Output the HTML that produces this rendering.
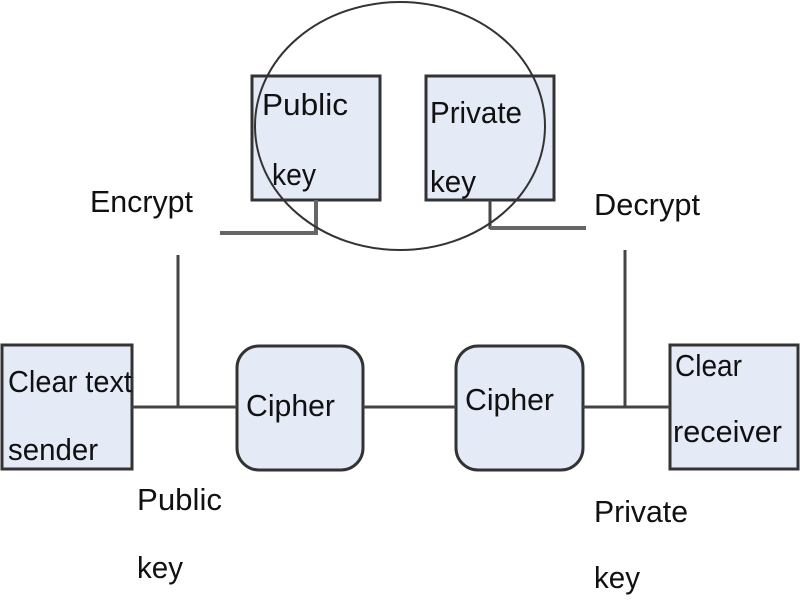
<!DOCTYPE html>
<html><head><style>body{margin:0;background:#fff}svg{display:block}text{font-family:"Liberation Sans",sans-serif;font-size:31px;fill:#111}</style></head>
<body>
<svg width="800" height="600" viewBox="0 0 800 600">
<g stroke="#333" stroke-width="3" fill="#e5ebf6">
<rect x="252" y="76" width="128" height="124"/>
<rect x="426" y="76" width="128" height="124"/>
<rect x="2" y="345" width="130" height="124"/>
<rect x="237" y="346" width="126" height="124" rx="22"/>
<rect x="456" y="346" width="127" height="124" rx="22"/>
<rect x="670" y="345" width="128" height="124"/>
</g>
<g stroke="#444" stroke-width="3" fill="none">
<line x1="132" y1="407" x2="237" y2="407"/>
<line x1="363" y1="407" x2="456" y2="407"/>
<line x1="583" y1="407" x2="670" y2="407"/>
<line x1="178" y1="255" x2="178" y2="407"/>
<line x1="625" y1="250" x2="625" y2="407"/>
<line x1="490" y1="200" x2="490" y2="229"/>
</g>
<g stroke="#666" stroke-width="4" fill="none">
<polyline points="316,200 316,233 220,233"/>
<line x1="490" y1="228" x2="586" y2="228"/>
</g>
<ellipse cx="400" cy="126" rx="145" ry="124" fill="none" stroke="#333" stroke-width="2"/>
<g lengthAdjust="spacingAndGlyphs">
<text x="262" y="115" textLength="86" lengthAdjust="spacingAndGlyphs">Public</text><text x="272" y="185" textLength="44" lengthAdjust="spacingAndGlyphs">key</text>
<text x="430" y="123" textLength="92" lengthAdjust="spacingAndGlyphs">Private</text><text x="430" y="192" textLength="46" lengthAdjust="spacingAndGlyphs">key</text>
<text x="90" y="212" textLength="103" lengthAdjust="spacingAndGlyphs">Encrypt</text>
<text x="594" y="215" textLength="106" lengthAdjust="spacingAndGlyphs">Decrypt</text>
<text x="8" y="392" textLength="124" lengthAdjust="spacingAndGlyphs">Clear text</text><text x="8" y="460" textLength="90" lengthAdjust="spacingAndGlyphs">sender</text>
<text x="246" y="416" textLength="89" lengthAdjust="spacingAndGlyphs">Cipher</text>
<text x="465" y="410" textLength="89" lengthAdjust="spacingAndGlyphs">Cipher</text>
<text x="675" y="376" textLength="67" lengthAdjust="spacingAndGlyphs">Clear</text><text x="673" y="442" textLength="109" lengthAdjust="spacingAndGlyphs">receiver</text>
<text x="137" y="510" textLength="85" lengthAdjust="spacingAndGlyphs">Public</text><text x="137" y="578" textLength="46" lengthAdjust="spacingAndGlyphs">key</text>
<text x="594" y="522" textLength="94" lengthAdjust="spacingAndGlyphs">Private</text><text x="594" y="588" textLength="46" lengthAdjust="spacingAndGlyphs">key</text>
</g>
</svg>
</body></html>
